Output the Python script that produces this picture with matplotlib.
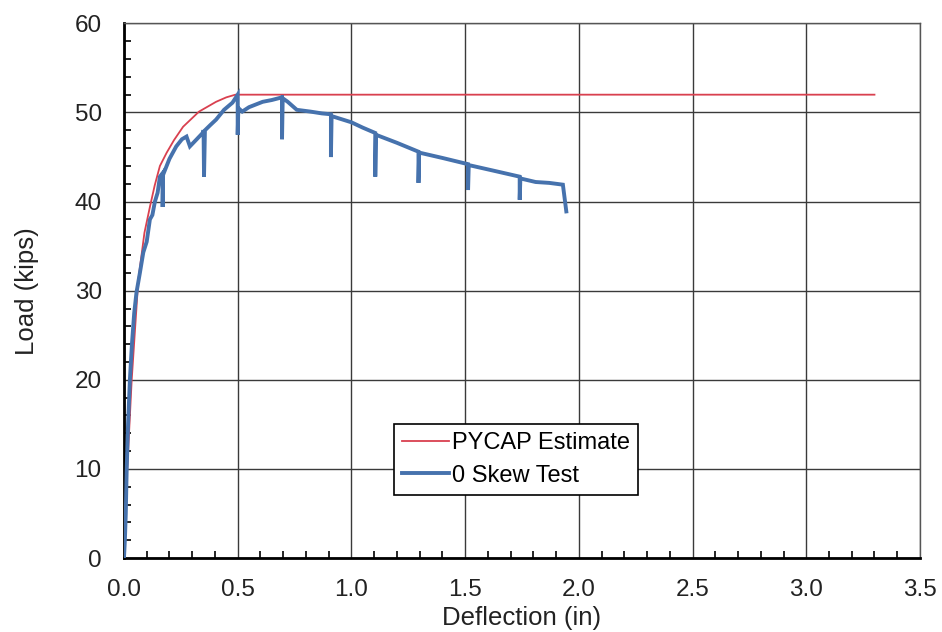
import matplotlib
matplotlib.use("Agg")
import matplotlib.pyplot as plt
from matplotlib.ticker import MultipleLocator

plt.rcParams['font.family'] = ['Liberation Sans', 'DejaVu Sans']

# PYCAP estimate
pycap_x = [0.0, 0.012, 0.034, 0.063, 0.09, 0.114, 0.135, 0.158, 0.188, 0.22, 0.26,
           0.33, 0.405, 0.45, 0.49, 0.52, 1.0, 2.0, 3.3]
pycap_y = [0.0, 8.8, 20.0, 31.2, 36.5, 39.4, 41.8, 44.0, 45.5, 46.9, 48.4,
           50.1, 51.2, 51.7, 52.0, 52.0, 52.0, 52.0, 52.0]

# 0 Skew test (with unload spikes)
test_x = [0.0, 0.004, 0.008, 0.012, 0.018, 0.026, 0.035, 0.045, 0.055, 0.07, 0.085,
          0.1, 0.114, 0.125, 0.136, 0.148, 0.158, 0.17, 0.17, 0.172, 0.2, 0.23,
          0.255, 0.275, 0.29, 0.32, 0.346, 0.35, 0.352, 0.356, 0.38, 0.405, 0.44,
          0.477, 0.5, 0.5, 0.503, 0.52, 0.55, 0.61, 0.65, 0.695, 0.695, 0.698,
          0.72, 0.76, 0.82, 0.87, 0.91, 0.91, 0.913, 0.95, 1.0, 1.05, 1.105,
          1.105, 1.108, 1.2, 1.295, 1.295, 1.298, 1.4, 1.513, 1.513, 1.516,
          1.62, 1.74, 1.74, 1.743, 1.81, 1.87, 1.93, 1.945]
test_y = [0.0, 2.0, 5.0, 10.0, 15.0, 20.0, 24.0, 27.5, 29.8, 32.0, 34.3,
          35.5, 38.0, 38.5, 40.0, 41.0, 42.8, 43.2, 39.4, 43.0, 44.8, 46.2,
          47.0, 47.3, 46.2, 47.0, 47.7, 48.0, 42.8, 48.0, 48.6, 49.2, 50.3,
          51.1, 52.0, 47.5, 50.5, 50.1, 50.6, 51.2, 51.4, 51.7, 47.0, 51.6,
          51.2, 50.3, 50.1, 49.9, 49.8, 45.0, 49.6, 49.3, 48.9, 48.3, 47.7,
          42.8, 47.5, 46.6, 45.6, 42.1, 45.5, 44.9, 44.2, 41.3, 44.1,
          43.5, 42.8, 40.2, 42.6, 42.2, 42.1, 41.9, 38.9]

x_ticks = [0.0, 0.5, 1.0, 1.5, 2.0, 2.5, 3.0, 3.5]
y_ticks = [0, 10, 20, 30, 40, 50, 60]

fig = plt.figure(figsize=(9.42, 6.32), dpi=100)
ax = fig.add_axes([0.1316, 0.117, 0.845, 0.846])

ax.plot(pycap_x, pycap_y, color='#d9404f', lw=1.3, label='PYCAP Estimate', zorder=3)
ax.plot(test_x, test_y, color='#4672ad', lw=2.8, label='0 Skew Test', zorder=4,
        solid_joinstyle='miter')

ax.set_xlim(0, 3.5)
ax.set_ylim(0, 60)
ax.set_xticks(x_ticks)
ax.set_xticklabels([f"{v:.1f}" for v in x_ticks])
ax.set_yticks(y_ticks)
ax.xaxis.set_minor_locator(MultipleLocator(0.1))
ax.yaxis.set_minor_locator(MultipleLocator(2))
ax.tick_params(which='both', direction='in', labelsize=17.5, color='black',
               labelcolor='#222222')
ax.tick_params(axis='x', which='major', length=0, pad=15)
ax.tick_params(axis='y', which='major', length=0, pad=16)
ax.tick_params(which='minor', length=5, width=1.2)

ax.grid(True, which='major', color='#3a3a3a', lw=1.0)
for s in ['top', 'right']:
    ax.spines[s].set_color('#555555')
    ax.spines[s].set_linewidth(1.0)
for s in ['left', 'bottom']:
    ax.spines[s].set_color('black')
    ax.spines[s].set_linewidth(2.0)

ax.set_xlabel('Deflection (in)', fontsize=18.5, labelpad=4, color='#222222')
ax.set_ylabel('Load (kips)', fontsize=18.5, labelpad=26, color='#222222')

leg = ax.legend(loc='lower left', bbox_to_anchor=(0.339, 0.118), fontsize=17,
                frameon=True, fancybox=False, framealpha=1, edgecolor='black',
                handlelength=2.0, handletextpad=0.1, borderpad=0.35,
                labelspacing=0.45, borderaxespad=0)
leg.get_frame().set_linewidth(1.2)

fig.savefig('out.png', dpi=100)
